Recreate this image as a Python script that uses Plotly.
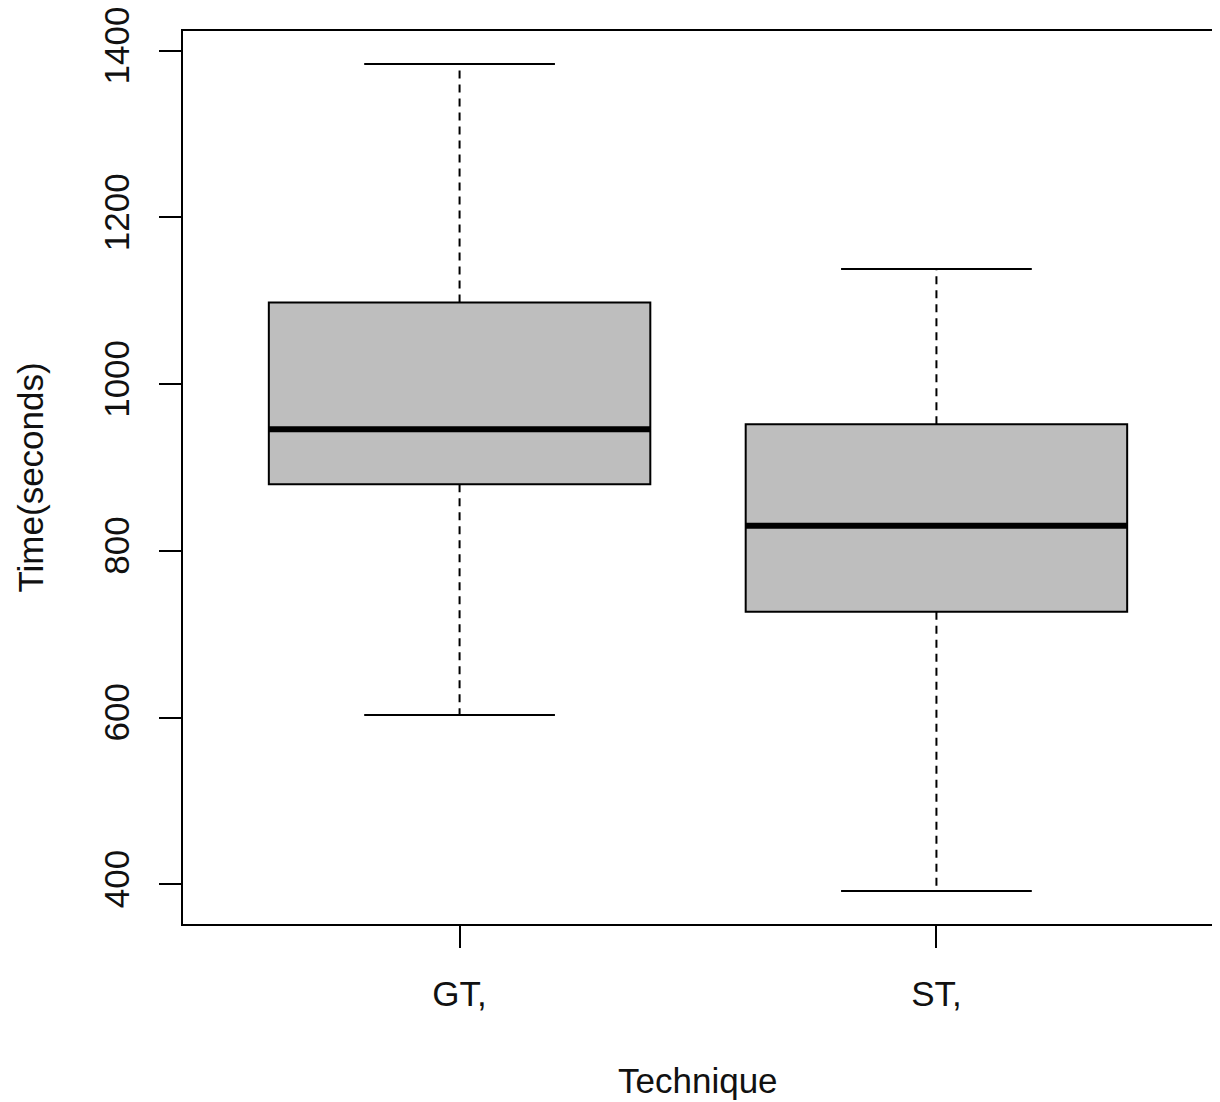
import plotly.graph_objects as go

# Data
categories = ["GT,", "ST,"]
lower_whisker = [603, 392]
q1 = [880, 727]
median = [946, 830]
q3 = [1098, 952]
upper_whisker = [1384, 1138]
y_ticks = [400, 600, 800, 1000, 1200, 1400]

positions = [1, 2]
box_width = 0.8
cap_width = 0.4

FONT = "Liberation Sans, Arial, sans-serif"
FS = 35
fig = go.Figure()

for i, p in enumerate(positions):
    # dashed whiskers
    fig.add_trace(go.Scatter(
        x=[p, p, None, p, p],
        y=[q3[i], upper_whisker[i], None, q1[i], lower_whisker[i]],
        mode="lines", line=dict(color="black", width=2, dash="8px,6px"),
        hoverinfo="skip", showlegend=False))
    # staples
    fig.add_trace(go.Scatter(
        x=[p - cap_width / 2, p + cap_width / 2, None, p - cap_width / 2, p + cap_width / 2],
        y=[upper_whisker[i], upper_whisker[i], None, lower_whisker[i], lower_whisker[i]],
        mode="lines", line=dict(color="black", width=2),
        hoverinfo="skip", showlegend=False))

for i, p in enumerate(positions):
    fig.add_trace(go.Box(
        x=[p], q1=[q1[i]], median=[median[i]], q3=[q3[i]],
        lowerfence=[q1[i]], upperfence=[q3[i]],
        width=box_width, whiskerwidth=0,
        fillcolor="#BEBEBE", line=dict(color="black", width=2),
        boxpoints=False, hoverinfo="skip", showlegend=False))

for i, p in enumerate(positions):
    fig.add_trace(go.Scatter(
        x=[p - box_width / 2, p + box_width / 2],
        y=[median[i], median[i]],
        mode="lines", line=dict(color="black", width=6),
        hoverinfo="skip", showlegend=False))

lo = min(lower_whisker)
hi = max(upper_whisker)
span = hi - lo

# page body has an 8px margin, so the figure is 8px smaller and shifted
fig.update_layout(
    width=1212, height=1094,
    margin=dict(l=175, r=7, t=23, b=178),
    plot_bgcolor="white", paper_bgcolor="white",
    font=dict(family=FONT, size=FS, color="black"),
    xaxis=dict(
        range=[0.42, 2.58], tickvals=positions, ticktext=categories,
        ticks="outside", ticklen=22, tickwidth=2, tickcolor="black",
        showline=True, mirror=True, linecolor="black", linewidth=2,
        showgrid=False, zeroline=False, ticklabelstandoff=16,
        ticklabeloverflow="allow", automargin=False,
        tickfont=dict(family=FONT, size=FS, color="#111111")),
    yaxis=dict(
        range=[lo - 0.04 * span, hi + 0.04 * span], tickvals=y_ticks,
        ticks="outside", ticklen=22, tickwidth=2, tickcolor="black",
        showline=True, mirror=True, linecolor="black", linewidth=2,
        showgrid=False, zeroline=False, tickangle=-90, ticklabelstandoff=16,
        ticklabeloverflow="allow", automargin=False,
        tickfont=dict(family=FONT, size=FS, color="#111111")),
    annotations=[
        dict(text="Time(seconds)", xref="paper", yref="paper",
             x=(30 - 183) / 1030, y=0.5, xanchor="center", yanchor="middle",
             textangle=-90, showarrow=False,
             font=dict(family=FONT, size=FS, color="#111111")),
        dict(text="Technique", xref="paper", yref="paper",
             x=0.5, y=(924 - 1080) / 893, xanchor="center", yanchor="middle",
             showarrow=False,
             font=dict(family=FONT, size=FS, color="#111111")),
    ],
)

fig.write_html("out.html")
